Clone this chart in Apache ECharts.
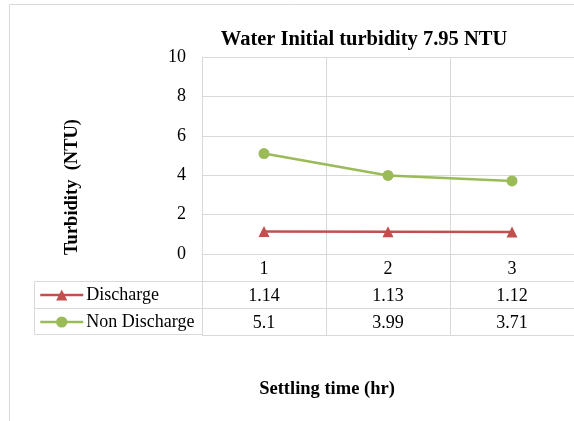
<!DOCTYPE html>
<html>
<head>
<meta charset="utf-8">
<script src="https://cdn.jsdelivr.net/npm/echarts@6/dist/echarts.min.js"></script>
<style>
  html, body { margin: 0; padding: 0; background: #fff; }
  #chart { width: 574px; height: 421px; }
</style>
</head>
<body>
<div id="chart"></div>
<script>
// data
var categories = ['1', '2', '3'];
var discharge = [1.14, 1.13, 1.12];
var nonDischarge = [5.1, 3.99, 3.71];
var yTicks = { min: 0, max: 10, interval: 2 };

var serif = 'Liberation Serif';
var gridColor = '#d9d9d9';
var redColor = '#c0504d';
var greenColor = '#9bbb59';

var chart = echarts.init(document.getElementById('chart'));

// row of the data table, drawn as an extra category axis under the plot
function tableRow(values, offset) {
  return {
    type: 'category',
    gridIndex: 0,
    position: 'bottom',
    offset: offset,
    data: values.map(function(v) { return String(v); }),
    axisLine: { show: false },
    axisTick: { show: false },
    splitLine: { show: false },
    axisLabel: { margin: 6, fontFamily: serif, fontSize: 18, color: '#000' }
  };
}

function legendRow(name, top) {
  return {
    data: [name],
    orient: 'vertical',
    left: 39,
    top: top,
    padding: 0,
    itemWidth: 43,
    itemHeight: 14,
    itemGap: 0,
    lineStyle: { width: 2.5 },
    textStyle: { fontFamily: serif, fontSize: 18, color: '#000', padding: [0, 0, 0, -2] },
    selectedMode: false
  };
}

var option = {
  backgroundColor: '#fff',
  animation: false,
  grid: [
    { left: 202, right: -1, top: 57, height: 197 },
    { left: 202, right: -1, top: 254, height: 81 }
  ],
  xAxis: [
    {
      type: 'category',
      gridIndex: 0,
      data: categories,
      axisLine: { show: true, lineStyle: { color: gridColor } },
      axisTick: { show: false },
      splitLine: { show: true, interval: 0, lineStyle: { color: gridColor } },
      axisLabel: { margin: 6, fontFamily: serif, fontSize: 18, color: '#000' }
    },
    tableRow(discharge, 27),
    tableRow(nonDischarge, 54),
    {
      type: 'category',
      gridIndex: 1,
      data: categories,
      axisLine: { show: false },
      axisTick: { show: false },
      axisLabel: { show: false },
      splitLine: { show: true, interval: 0, lineStyle: { color: gridColor } }
    }
  ],
  yAxis: [
    {
      type: 'value',
      gridIndex: 0,
      min: yTicks.min,
      max: yTicks.max,
      interval: yTicks.interval,
      axisLine: { show: true, lineStyle: { color: gridColor } },
      axisTick: { show: false },
      splitLine: { show: true, lineStyle: { color: gridColor } },
      axisLabel: { margin: 16, fontFamily: serif, fontSize: 18, color: '#000' }
    },
    {
      type: 'value',
      gridIndex: 1,
      min: 0,
      max: 3,
      interval: 1,
      axisLine: { show: true, lineStyle: { color: gridColor } },
      axisTick: { show: false },
      axisLabel: { show: false },
      splitLine: { show: true, lineStyle: { color: gridColor } }
    }
  ],
  legend: [
    legendRow('Discharge', 286),
    legendRow('Non Discharge', 313)
  ],
  graphic: [
    // outer chart border
    {
      type: 'rect',
      shape: { x: 9.5, y: 4.5, width: 600, height: 460 },
      style: { fill: 'none', stroke: gridColor, lineWidth: 1 },
      silent: true
    },
    // legend column of the data table
    {
      type: 'rect',
      shape: { x: 34.5, y: 281.5, width: 168, height: 53 },
      style: { fill: 'none', stroke: gridColor, lineWidth: 1 },
      silent: true
    },
    {
      type: 'line',
      shape: { x1: 34.5, y1: 308.5, x2: 202.5, y2: 308.5 },
      style: { stroke: gridColor, lineWidth: 1 },
      silent: true
    },
    {
      type: 'text',
      x: 364,
      y: 40,
      style: {
        text: 'Water Initial turbidity 7.95 NTU',
        fontFamily: serif,
        fontSize: 20.5,
        fontWeight: 'bold',
        fill: '#000',
        textAlign: 'center',
        textVerticalAlign: 'middle'
      }
    },
    {
      type: 'text',
      x: 72,
      y: 187,
      rotation: Math.PI / 2,
      style: {
        text: 'Turbidity  (NTU)',
        fontFamily: serif,
        fontSize: 18.5,
        fontWeight: 'bold',
        fill: '#000',
        textAlign: 'center',
        textVerticalAlign: 'middle'
      }
    },
    {
      type: 'text',
      x: 327,
      y: 389,
      style: {
        text: 'Settling time (hr)',
        fontFamily: serif,
        fontSize: 18.5,
        fontWeight: 'bold',
        fill: '#000',
        textAlign: 'center',
        textVerticalAlign: 'middle'
      }
    }
  ],
  series: [
    {
      name: 'Discharge',
      type: 'line',
      xAxisIndex: 0,
      yAxisIndex: 0,
      data: discharge,
      symbol: 'triangle',
      symbolSize: 11,
      lineStyle: { color: redColor, width: 2.5 },
      itemStyle: { color: redColor }
    },
    {
      name: 'Non Discharge',
      type: 'line',
      xAxisIndex: 0,
      yAxisIndex: 0,
      data: nonDischarge,
      symbol: 'circle',
      symbolSize: 11,
      lineStyle: { color: greenColor, width: 2.5 },
      itemStyle: { color: greenColor }
    }
  ]
};

chart.setOption(option);
</script>
</body>
</html>
